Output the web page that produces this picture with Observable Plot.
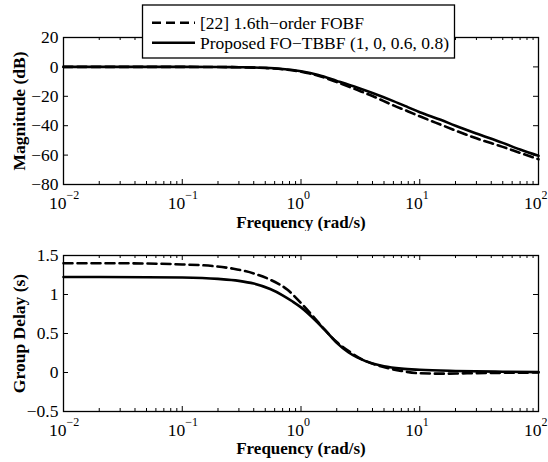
<!DOCTYPE html>
<html><head><meta charset="utf-8">
<script src="https://cdn.jsdelivr.net/npm/d3@7"></script>
<script src="https://cdn.jsdelivr.net/npm/@observablehq/plot@0.6"></script>
<style>
body{margin:0;background:#fff;}
#wrap{position:relative;width:548px;height:462px;overflow:hidden;background:#fff;}
#wrap svg{position:absolute;left:0;}
</style></head><body><div id="wrap"></div>
<script>
// ---- data ----
const seriesNames = ["[22] 1.6th\u2212order FOBF", "Proposed FO\u2212TBBF (1, 0, 0.6, 0.8)"];

const magFreq     = [0.01, 0.03, 0.1, 0.2, 0.3, 0.5, 0.7, 1, 1.4, 2, 3, 4, 6, 8, 10, 15, 20, 30, 50, 70, 100];
const magProposed = [0, 0, 0, -0.1, -0.2, -0.6, -1.4, -3.0, -5.5, -9.5, -14.2, -17.8, -23.3, -27.5, -30.8, -36.0, -40.0, -45.3, -51.7, -56.2, -60.5];
const magRef      = [0, 0, 0, -0.1, -0.25, -0.8, -1.6, -3.3, -6.0, -10.3, -15.8, -19.8, -26.2, -30.3, -33.6, -39.3, -43.3, -48.6, -54.4, -58.5, -62.8];

const gdFreqProposed = [0.01, 0.05, 0.1, 0.2, 0.3, 0.4, 0.55, 0.7, 0.85, 1, 1.3, 1.6, 2, 2.5, 3, 4, 5, 7, 10, 20, 50, 100];
const gdProposed     = [1.225, 1.222, 1.218, 1.2, 1.175, 1.14, 1.07, 0.99, 0.91, 0.835, 0.68, 0.54, 0.38, 0.26, 0.19, 0.115, 0.08, 0.05, 0.035, 0.02, 0.01, 0.005];
const gdFreqRef = [0.01, 0.03, 0.1, 0.18, 0.27, 0.4, 0.55, 0.77, 1, 1.28, 1.56, 2, 2.6, 3.2, 4.7, 7, 10, 15, 25, 50, 100];
const gdRef     = [1.40, 1.40, 1.385, 1.365, 1.33, 1.27, 1.19, 1.06, 0.89, 0.71, 0.56, 0.39, 0.26, 0.175, 0.08, 0.02, -0.01, -0.015, -0.01, -0.004, 0];

const xMajorTicks = [0.01, 0.1, 1, 10, 100];
const xTickBase = "10";
const xTickExponents = ["\u22122", "\u22121", "0", "1", "2"];
const magTicks = [20, 0, -20, -40, -60, -80];
const magTickLabels = ["20", "0", "\u221220", "\u221240", "\u221260", "\u221280"];
const gdTicks = [1.5, 1, 0.5, 0, -0.5];
const gdTickLabels = ["1.5", "1", "0.5", "0", "\u22120.5"];
const xLabel = "Frequency (rad/s)";
const magLabel = "Magnitude (dB)";
const gdLabel = "Group Delay (s)";

// minor ticks (2..9 in each decade)
const xMinorTicks = [];
for (let e = -2; e < 2; e++) for (let m = 2; m <= 9; m++) xMinorTicks.push(m * Math.pow(10, e));

const zip = (xs, ys) => xs.map((x, i) => ({f: x, v: ys[i]}));

const W = 548, ML = 63, MR = 10;
const FONT = "'Liberation Serif', 'Times New Roman', serif";
const DASH = "9,5";

function panel({height, marginTop, marginBottom, domain, ticks, tickLabels, ylabel, solid, dashed, labelDy}) {
  const fh = height - marginTop - marginBottom;
  const fw = W - ML - MR;
  return Plot.plot({
    width: W, height, marginLeft: ML, marginRight: MR, marginTop, marginBottom,
    x: {type: "log", domain: [0.01, 100], axis: null},
    y: {domain, axis: null},
    style: {fontFamily: FONT, fontSize: "17.5px", background: "white", color: "black", overflow: "visible"},
    marks: [
      Plot.line(solid, {x: "f", y: "v", stroke: "black", strokeWidth: 2.6, curve: "monotone-x"}),
      Plot.line(dashed, {x: "f", y: "v", stroke: "black", strokeWidth: 2.6, strokeDasharray: DASH, curve: "monotone-x"}),
      Plot.frame({stroke: "black", strokeWidth: 1.3}),
      Plot.tickX(xMajorTicks, {x: d => d, stroke: "black", insetTop: fh - 5}),
      Plot.tickX(xMajorTicks, {x: d => d, stroke: "black", insetBottom: fh - 5}),
      Plot.tickX(xMinorTicks, {x: d => d, stroke: "black", insetTop: fh - 3}),
      Plot.tickX(xMinorTicks, {x: d => d, stroke: "black", insetBottom: fh - 3}),
      Plot.tickY(ticks, {y: d => d, stroke: "black", insetRight: fw - 5}),
      Plot.tickY(ticks, {y: d => d, stroke: "black", insetLeft: fw - 5}),
      Plot.text(ticks, {y: d => d, text: (d, i) => tickLabels[i], frameAnchor: "left", textAnchor: "end", lineAnchor: "middle", dx: -5, fill: "black"}),
      Plot.text(xMajorTicks, {x: d => d, text: () => xTickBase, frameAnchor: "bottom", textAnchor: "end", lineAnchor: "middle", dx: 3, dy: 19, fill: "black"}),
      Plot.text(xMajorTicks, {x: d => d, text: (d, i) => xTickExponents[i], frameAnchor: "bottom", textAnchor: "start", lineAnchor: "middle", dx: 3, dy: 11, fontSize: 12, fill: "black"}),
      Plot.text([xLabel], {text: d => d, frameAnchor: "bottom", textAnchor: "middle", lineAnchor: "middle", dy: labelDy, fontWeight: "bold", fontSize: 17, fill: "black"}),
      Plot.text([ylabel], {text: d => d, frameAnchor: "left", textAnchor: "middle", lineAnchor: "middle", rotate: -90, dx: -44, fontWeight: "bold", fontSize: 17.5, fill: "black"})
    ]
  });
}

const wrap = document.getElementById("wrap");

const topPanel = panel({height: 231, marginTop: 37, marginBottom: 47, domain: [-80, 20], ticks: magTicks, tickLabels: magTickLabels,
  ylabel: magLabel, solid: zip(magFreq, magProposed), dashed: zip(magFreq, magRef), labelDy: 38});
topPanel.style.top = "0px";
wrap.appendChild(topPanel);

const botPanel = panel({height: 231, marginTop: 24, marginBottom: 51, domain: [-0.5, 1.5], ticks: gdTicks, tickLabels: gdTickLabels,
  ylabel: gdLabel, solid: zip(gdFreqProposed, gdProposed), dashed: zip(gdFreqRef, gdRef), labelDy: 37.5});
botPanel.style.top = "231px";
wrap.appendChild(botPanel);

// legend overlay
const ns = "http://www.w3.org/2000/svg";
const leg = document.createElementNS(ns, "svg");
leg.setAttribute("width", W); leg.setAttribute("height", 70);
leg.style.top = "0px";
leg.style.pointerEvents = "none";
const lx = 142.5, ly = 5, lw = 312, lh = 53;
leg.innerHTML = `<rect x="${lx}" y="${ly}" width="${lw}" height="${lh}" fill="white" stroke="black" stroke-width="1.3"/>`;
const rows = [{dash: DASH, y: 22.7, name: seriesNames[0]}, {dash: null, y: 42.7, name: seriesNames[1]}];
rows.forEach(r => {
  const l = document.createElementNS(ns, "line");
  l.setAttribute("x1", 152); l.setAttribute("x2", 195);
  l.setAttribute("y1", r.y); l.setAttribute("y2", r.y);
  l.setAttribute("stroke", "black"); l.setAttribute("stroke-width", 2.6);
  if (r.dash) l.setAttribute("stroke-dasharray", r.dash);
  leg.appendChild(l);
  const t = document.createElementNS(ns, "text");
  t.setAttribute("x", 200); t.setAttribute("y", r.y);
  t.setAttribute("dy", "0.35em");
  t.setAttribute("font-family", FONT); t.setAttribute("font-size", 17.5);
  t.textContent = r.name;
  leg.appendChild(t);
});
wrap.appendChild(leg);
</script></body></html>
